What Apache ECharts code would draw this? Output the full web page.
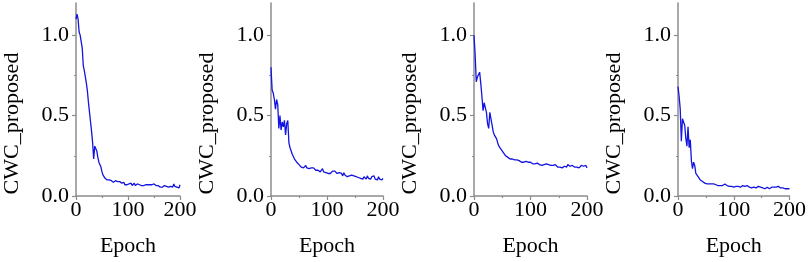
<!DOCTYPE html>
<html>
<head>
<meta charset="utf-8">
<script src="https://cdn.jsdelivr.net/npm/echarts@6/dist/echarts.min.js"></script>
<style>
html,body{margin:0;padding:0;background:#fff;}
#chart{width:809px;height:262px;}
</style>
</head>
<body>
<div id="chart"></div>
<script>
// Epochs (every 2nd epoch)
const epochs = [];
for (let e = 0; e <= 200; e += 2) epochs.push(e);

const xTickLabels = ['0', '100', '200'];
const yTickLabels = ['0.0', '0.5', '1.0'];
const yAxisTitle = 'CWC_proposed';
const xAxisTitle = 'Epoch';

const cwc1 = [1.10,1.13,1.10,1.02,1.00,0.96,0.92,0.81,0.78,0.79,0.70,0.65,0.58,0.52,0.46,0.40,0.33,0.23,0.31,0.30,
0.28,0.24,0.21,0.20,0.18,0.15,0.13,0.12,0.11,0.105,0.10,0.095,0.10,0.09,0.095,0.09,0.085,0.09,0.095,0.085,
0.09,0.08,0.09,0.085,0.08,0.075,0.085,0.07,0.075,0.07,0.065,0.075,0.07,0.08,0.065,0.07,0.08,0.065,0.07,0.075,
0.065,0.07,0.075,0.065,0.07,0.065,0.075,0.07,0.065,0.07,0.075,0.07,0.065,0.07,0.08,0.075,0.07,0.065,0.07,0.065,
0.06,0.055,0.065,0.055,0.06,0.065,0.055,0.06,0.07,0.055,0.065,0.06,0.07,0.055,0.075,0.06,0.07,0.055,0.065,0.05,0.07];

const cwc2 = [0.80,0.66,0.64,0.60,0.54,0.60,0.57,0.42,0.50,0.41,0.46,0.43,0.47,0.38,0.45,0.47,0.33,0.30,0.28,0.26,
0.25,0.23,0.22,0.21,0.20,0.195,0.19,0.18,0.185,0.175,0.18,0.19,0.175,0.18,0.17,0.18,0.175,0.17,0.175,0.165,
0.16,0.17,0.16,0.155,0.15,0.16,0.17,0.15,0.155,0.145,0.15,0.14,0.145,0.14,0.15,0.155,0.145,0.155,0.15,0.14,
0.13,0.145,0.135,0.14,0.125,0.145,0.13,0.14,0.12,0.13,0.125,0.115,0.13,0.12,0.125,0.13,0.12,0.125,0.115,0.12,
0.11,0.115,0.105,0.12,0.11,0.105,0.125,0.11,0.115,0.105,0.12,0.11,0.125,0.105,0.115,0.10,0.12,0.105,0.115,0.10,0.11];

const cwc3 = [1.00,0.88,0.71,0.74,0.73,0.77,0.70,0.62,0.53,0.58,0.55,0.52,0.45,0.42,0.52,0.53,0.44,0.40,0.38,0.37,
0.355,0.33,0.31,0.30,0.29,0.28,0.27,0.26,0.25,0.245,0.24,0.235,0.23,0.225,0.23,0.22,0.225,0.22,0.225,0.215,
0.22,0.215,0.21,0.22,0.21,0.205,0.215,0.205,0.21,0.20,0.21,0.205,0.20,0.21,0.20,0.195,0.205,0.20,0.195,0.205,
0.19,0.20,0.195,0.19,0.20,0.19,0.195,0.185,0.19,0.20,0.19,0.185,0.195,0.19,0.18,0.19,0.18,0.185,0.175,0.18,
0.185,0.19,0.18,0.195,0.19,0.185,0.18,0.19,0.185,0.18,0.19,0.18,0.185,0.175,0.18,0.19,0.18,0.185,0.18,0.19,0.175];

const cwc4 = [0.68,0.62,0.54,0.34,0.48,0.47,0.44,0.36,0.31,0.43,0.30,0.35,0.22,0.17,0.21,0.19,0.14,0.13,0.12,0.115,
0.10,0.095,0.09,0.085,0.08,0.08,0.075,0.08,0.075,0.07,0.075,0.07,0.075,0.065,0.07,0.075,0.065,0.07,0.065,0.07,
0.065,0.07,0.075,0.07,0.065,0.07,0.06,0.065,0.06,0.07,0.055,0.065,0.06,0.055,0.06,0.065,0.055,0.06,0.065,0.055,
0.06,0.055,0.065,0.06,0.055,0.06,0.05,0.06,0.055,0.06,0.05,0.055,0.06,0.05,0.055,0.06,0.05,0.055,0.045,0.05,
0.055,0.05,0.045,0.05,0.055,0.05,0.055,0.06,0.055,0.05,0.06,0.055,0.05,0.045,0.05,0.055,0.045,0.05,0.045,0.04,0.045];

const seriesList = [cwc1, cwc2, cwc3, cwc4];
const gridLefts = [68, 271, 474, 678];
const gridWidths = [112, 112, 113, 112];

const FONT = '"Liberation Serif", "Times New Roman", serif';
const AXIS_COLOR = '#8c8c8c';

const grids = [], xAxes = [], yAxes = [], series = [];
seriesList.forEach((vals, i) => {
  grids.push({left: gridLefts[i], top: 3, width: gridWidths[i], height: 195, containLabel: false});
  xAxes.push({
    type: 'value', gridIndex: i, min: 0, max: 200, interval: 100,
    name: xAxisTitle, nameLocation: 'middle', nameGap: 39,
    nameTextStyle: {fontFamily: FONT, fontSize: 22, color: '#000'},
    axisLine: {show: true, onZero: false, lineStyle: {color: AXIS_COLOR, width: 1.5}},
    axisTick: {show: true, inside: false, length: 4, lineStyle: {color: AXIS_COLOR, width: 1.2}},
    minorTick: {show: true, splitNumber: 2, length: 2, lineStyle: {color: AXIS_COLOR, width: 1.2}},
    splitLine: {show: false},
    axisLabel: {fontFamily: FONT, fontSize: 22, color: '#000', margin: 3,
      formatter: v => xTickLabels[[0,100,200].indexOf(v)] || ''}
  });
  yAxes.push({
    type: 'value', gridIndex: i, min: 0, max: 1.2, interval: 0.5,
    name: yAxisTitle, nameLocation: 'middle', nameGap: 53, nameRotate: 90,
    nameTextStyle: {fontFamily: FONT, fontSize: 22, color: '#000', padding: [0, 48, 0, 0]},
    axisLine: {show: true, lineStyle: {color: AXIS_COLOR, width: 1.5}},
    axisTick: {show: true, inside: false, length: 4, customValues: [0, 0.5, 1.0], lineStyle: {color: AXIS_COLOR, width: 1.2}},
    minorTick: {show: true, splitNumber: 2, length: 2, lineStyle: {color: AXIS_COLOR, width: 1.2}},
    splitLine: {show: false},
    axisLabel: {fontFamily: FONT, fontSize: 22, color: '#000', margin: 7,
      customValues: [0, 0.5, 1.0],
      formatter: v => { const k = [0, 0.5, 1].findIndex(t => Math.abs(t - v) < 1e-9); return k >= 0 ? yTickLabels[k] : ''; }}
  });
  series.push({
    type: 'line', xAxisIndex: i, yAxisIndex: i, showSymbol: false, symbol: 'none',
    data: epochs.map((e, k) => [e, vals[k]]),
    lineStyle: {color: '#1414e0', width: 1.3}, animation: false
  });
});

const chart = echarts.init(document.getElementById('chart'), null, {renderer: 'canvas'});
chart.setOption({
  animation: false,
  backgroundColor: '#ffffff',
  grid: grids, xAxis: xAxes, yAxis: yAxes, series: series
});
</script>
</body>
</html>
